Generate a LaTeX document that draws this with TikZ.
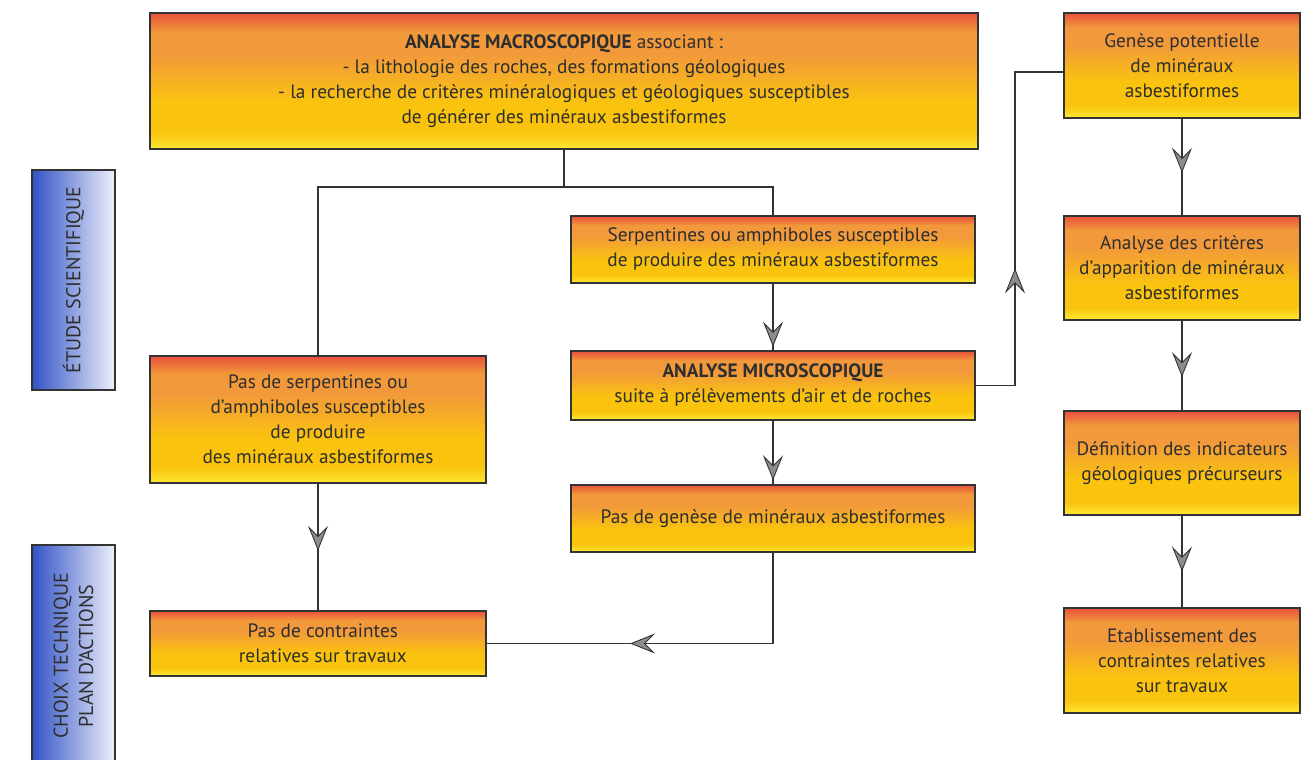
\documentclass[tikz,border=0pt]{standalone}
\usepackage{fontspec}
\setmainfont{PT Sans}
\usepackage{xcolor}
\usetikzlibrary{arrows.meta, positioning, calc, decorations.markings}

\definecolor{boxred}{HTML}{E8503C}
\definecolor{boxorange}{HTML}{F2993B}
\definecolor{boxgold}{HTML}{FAC40E}
\definecolor{boxyellow}{HTML}{FDE934}
\definecolor{phaseblue}{HTML}{3253C6}
\definecolor{phasewhite}{HTML}{EEF0FA}
\definecolor{linegray}{HTML}{333333}
\definecolor{textgray}{HTML}{2E2E2E}
\definecolor{arrowgray}{HTML}{8C8C8C}

\pgfdeclareverticalshading{boxshade}{100bp}{color(0bp)=(boxyellow); color(25bp)=(boxyellow); color(31bp)=(boxgold); color(42bp)=(boxgold); color(60bp)=(boxorange); color(68bp)=(boxorange); color(75bp)=(boxred); color(100bp)=(boxred)}

\begin{document}
\begin{tikzpicture}[x=0.02cm, y=-0.02cm, thick]
    % Styles
    \tikzstyle{box} = [rectangle, draw=linegray, line width=1.1pt, shading=boxshade, text=textgray, align=center, inner sep=0pt, font=\fontsize{11}{14.2}\selectfont]
    \tikzstyle{phase} = [rectangle, draw=linegray, line width=1.1pt, left color=phaseblue, right color=phasewhite, text=textgray, align=center, rotate=90, inner sep=0pt, font=\fontsize{11.4}{14.4}\selectfont]
    \tikzstyle{line} = [draw=linegray, line width=1.1pt]
    \tikzset{arrowat/.style={postaction={decorate, decoration={markings, mark=at position #1 with {\arrow{Stealth[length=0.5cm, width=0.4cm, inset=0.2cm, fill=arrowgray, color=linegray, line width=0.5pt]}}}}}}

    \useasboundingbox (0,0) rectangle (1309,760);

    % Phases
    \node [phase, minimum width=4.4cm, minimum height=1.66cm] (etude) at (73.5,280) {ÉTUDE SCIENTIFIQUE};
    \node [phase, minimum width=4.44cm, minimum height=1.66cm] (choix) at (73.5,656) {CHOIX TECHNIQUE\\PLAN D’ACTIONS};

    % Nodes
    \node [box, minimum width=16.56cm, minimum height=2.72cm] (macro) at (564,81) {\textbf{ANALYSE MACROSCOPIQUE} associant :\\- la lithologie des roches, des formations géologiques\\- la recherche de critères minéralogiques et géologiques susceptibles\\de générer des minéraux asbestiformes};
    \node [box, minimum width=8.08cm, minimum height=1.34cm] (serp) at (773,249.5) {Serpentines ou amphiboles susceptibles\\de produire des minéraux asbestiformes};
    \node [box, minimum width=8.08cm, minimum height=1.38cm] (micro) at (773,385.5) {\textbf{ANALYSE MICROSCOPIQUE}\\suite à prélèvements d’air et de roches};
    \node [box, minimum width=8.08cm, minimum height=1.34cm] (pasgen) at (773,518.5) {Pas de genèse de minéraux asbestiformes};
    \node [box, minimum width=6.72cm, minimum height=2.54cm] (passerp) at (318,419.5) {Pas de serpentines ou\\d’amphiboles susceptibles\\de produire\\des minéraux asbestiformes};
    \node [box, minimum width=6.72cm, minimum height=1.3cm] (contr) at (318,643.5) {\hspace{0.5em}Pas de contraintes\\\hspace{0.5em}relatives sur travaux};
    \node [box, minimum width=4.72cm, minimum height=2.1cm] (genpot) at (1182,65.5) {Genèse potentielle\\de minéraux\\asbestiformes};
    \node [box, minimum width=4.72cm, minimum height=2.08cm] (crit) at (1182,268) {Analyse des critères\\d’apparition de minéraux\\asbestiformes};
    \node [box, minimum width=4.72cm, minimum height=2.08cm] (defin) at (1182,463) {Définition des indicateurs\\géologiques précurseurs};
    \node [box, minimum width=4.72cm, minimum height=2.1cm] (etab) at (1182,660.5) {Etablissement des\\contraintes relatives\\sur travaux};

    % Edges
    \coordinate (split) at (564,187);
    \coordinate (riser) at (1015,72);
    \draw [line] (macro) -- (split);
    \draw [line] (split) -| (passerp);
    \draw [line] (split) -| (serp);
    \draw [line, arrowat=0.95] (serp) -- (micro);
    \draw [line, arrowat=0.94] (micro) -- (pasgen);
    \draw [line, arrowat=0.53] (passerp) -- (contr);
    \draw [line, arrowat=0.62] (pasgen) |- (contr);
    \draw [line, arrowat=0.39] (micro) -| (riser) -- (genpot.west |- riser);
    \draw [line, arrowat=0.56] (genpot) -- (crit);
    \draw [line, arrowat=0.63] (crit) -- (defin);
    \draw [line, arrowat=0.61] (defin) -- (etab);
\end{tikzpicture}
\end{document}
